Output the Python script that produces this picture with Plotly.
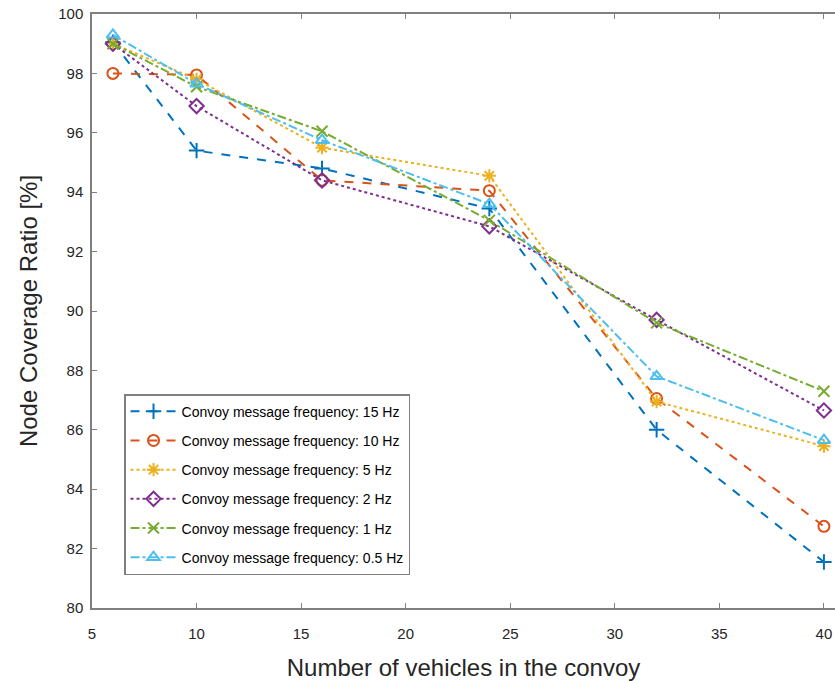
import plotly.graph_objects as go

vehicles = [6, 10, 16, 24, 32, 40]
f15 = [99.05, 95.4, 94.8, 93.45, 86.0, 81.55]
f10 = [98.0, 97.95, 94.4, 94.05, 87.05, 82.75]
f5 = [99.0, 97.8, 95.5, 94.55, 86.95, 85.45]
f2 = [99.0, 96.9, 94.4, 92.85, 89.7, 86.65]
f1 = [99.0, 97.55, 96.05, 93.05, 89.6, 87.3]
f05 = [99.3, 97.65, 95.75, 93.6, 87.8, 85.65]

labels = ["Convoy message frequency: 15 Hz", "Convoy message frequency: 10 Hz",
          "Convoy message frequency: 5 Hz", "Convoy message frequency: 2 Hz",
          "Convoy message frequency: 1 Hz", "Convoy message frequency: 0.5 Hz"]
series = [f15, f10, f5, f2, f1, f05]
colors = ["#0072BD", "#D95319", "#EDB120", "#7E2F8E", "#77AC30", "#4DBEEE"]
dashes = ["dash", "dash", "dot", "dot", "dashdot", "dashdot"]
symbols = ["cross-thin-open", "circle-open", "asterisk-open", "diamond-open",
           "x-thin-open", "triangle-up-open"]

fig = go.Figure()
for i, (lab, ys, c, d, s) in enumerate(zip(labels, series, colors, dashes, symbols)):
    fig.add_trace(go.Scatter(
        x=vehicles, y=ys, name=lab, mode="lines+markers", legendgroup=f"g{i}",
        line=dict(color=c, dash=d, width=2),
        marker=dict(symbol=s, size=11, color=c, line=dict(color=c, width=2)),
    ))

axis_common = dict(showline=True, linecolor="#808080", linewidth=1.5,
                   ticks="inside", ticklen=5, tickcolor="#808080", showgrid=False,
                   zeroline=False, automargin=False, ticklabeloverflow="allow",
                   tickfont=dict(size=15, color="#262626"))
fig.update_xaxes(range=[5, 40.53], tickvals=[5, 10, 15, 20, 25, 30, 35, 40],
                 mirror="ticks", ticklabelstandoff=11,
                 title=dict(text="Number of vehicles in the convoy",
                            font=dict(size=24, color="#262626"), standoff=18),
                 **axis_common)
fig.update_yaxes(range=[80, 100], tickvals=list(range(80, 101, 2)),
                 mirror=False, ticklabelstandoff=4,
                 title=dict(text="Node Coverage Ratio [%]",
                            font=dict(size=24, color="#262626"), standoff=14),
                 **axis_common)

fig.update_layout(
    width=835, height=681,
    margin=dict(l=92, r=0, t=14, b=73),
    plot_bgcolor="white", paper_bgcolor="white",
    font=dict(family="Liberation Sans, Arial, sans-serif", color="#262626"),
    legend=dict(x=0.0431, y=0.36, xanchor="left", yanchor="top",
                bgcolor="white", bordercolor="#808080", borderwidth=1.5,
                font=dict(size=14, color="#000000"), tracegroupgap=8, itemwidth=46),
    showlegend=True,
)

fig.write_html("out.html", config={"displayModeBar": False},
               post_script="document.body.style.margin='0px';document.body.style.overflow='hidden';")
